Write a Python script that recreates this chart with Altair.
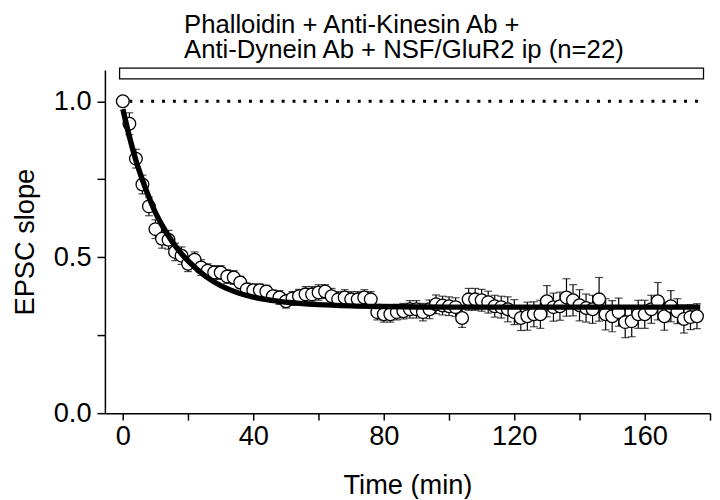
import altair as alt
import pandas as pd

# Time points (min) and normalized EPSC slope (mean, SEM)
time_min = [0, 2, 4, 6, 8, 10, 12, 14, 16, 18, 20, 22, 24, 26, 28, 30, 32, 34, 36, 38,
            40, 42, 44, 46, 48, 50, 52, 54, 56, 58, 60, 62, 64, 66, 68, 70, 72, 74, 76, 78,
            80, 82, 84, 86, 88, 90, 92, 94, 96, 98, 100, 102, 104, 106, 108, 110, 112, 114, 116, 118,
            120, 122, 124, 126, 128, 130, 132, 134, 136, 138, 140, 142, 144, 146, 148, 150, 152, 154, 156, 158,
            160, 162, 164, 166, 168, 170, 172, 174, 176]
epsc_mean = [1.000, 0.928, 0.816, 0.733, 0.663, 0.590, 0.559, 0.556, 0.517, 0.505,
             0.479, 0.492, 0.467, 0.457, 0.451, 0.451, 0.438, 0.435, 0.419, 0.397,
             0.394, 0.394, 0.390, 0.375, 0.371, 0.359, 0.368, 0.375, 0.381, 0.381,
             0.387, 0.390, 0.375, 0.365, 0.371, 0.365, 0.365, 0.371, 0.365, 0.324,
             0.317, 0.317, 0.324, 0.327, 0.333, 0.333, 0.324, 0.333, 0.349, 0.345,
             0.343, 0.340, 0.305, 0.365, 0.365, 0.362, 0.356, 0.343, 0.340, 0.333,
             0.324, 0.305, 0.311, 0.317, 0.317, 0.359, 0.340, 0.343, 0.371, 0.362,
             0.346, 0.337, 0.333, 0.365, 0.317, 0.311, 0.324, 0.292, 0.295, 0.317,
             0.317, 0.333, 0.359, 0.311, 0.343, 0.327, 0.302, 0.308, 0.311]
epsc_sem = [0.000, 0.035, 0.030, 0.030, 0.030, 0.030, 0.030, 0.030, 0.028, 0.028,
            0.025, 0.025, 0.025, 0.022, 0.022, 0.022, 0.022, 0.022, 0.020, 0.020,
            0.020, 0.020, 0.020, 0.020, 0.022, 0.022, 0.022, 0.022, 0.025, 0.025,
            0.025, 0.022, 0.025, 0.025, 0.025, 0.025, 0.025, 0.025, 0.025, 0.025,
            0.025, 0.025, 0.025, 0.025, 0.028, 0.028, 0.028, 0.030, 0.030, 0.030,
            0.030, 0.030, 0.030, 0.035, 0.035, 0.035, 0.035, 0.035, 0.035, 0.040,
            0.040, 0.040, 0.045, 0.040, 0.045, 0.050, 0.045, 0.045, 0.060, 0.050,
            0.050, 0.045, 0.045, 0.070, 0.050, 0.050, 0.045, 0.050, 0.050, 0.045,
            0.045, 0.045, 0.060, 0.045, 0.050, 0.040, 0.045, 0.040, 0.040]

# Exponential fit curve
fit_time = [0, 2, 4, 6, 8, 10, 12, 14, 16, 18, 20, 25, 30, 35, 40, 50, 60, 70, 80, 100, 140, 177]
fit_value = [0.975, 0.887, 0.811, 0.748, 0.692, 0.643, 0.603, 0.568, 0.537, 0.511, 0.488,
             0.442, 0.409, 0.387, 0.372, 0.356, 0.348, 0.344, 0.342, 0.340, 0.340, 0.340]

# Application bar and baseline
bar_start, bar_end = -1, 178
bar_low, bar_high = 1.072, 1.106
baseline_start, baseline_end, baseline_value = 2, 178, 1.0

title_lines = ["Phalloidin + Anti-Kinesin Ab +", "Anti-Dynein Ab + NSF/GluR2 ip (n=22)"]

FONT = "Liberation Sans"
FS = 27.5

df = pd.DataFrame({"t": time_min, "m": epsc_mean, "s": epsc_sem})
df["lo"] = df["m"] - df["s"]
df["hi"] = df["m"] + df["s"]
fit_df = pd.DataFrame({"t": fit_time, "v": fit_value})

xscale = alt.Scale(domain=[-5.5, 180], nice=False, zero=False)
yscale = alt.Scale(domain=[0, 1.1], nice=False, zero=False)

xaxis = alt.Axis(title="Time (min)", values=list(range(0, 181, 20)),
                 labelExpr="datum.value % 40 == 0 ? datum.label : ''",
                 grid=False, tickSize=7, labelPadding=3, titlePadding=22)
yaxis = alt.Axis(title="EPSC slope", values=[0, 0.25, 0.5, 0.75, 1.0],
                 labelExpr="datum.value % 0.5 == 0 ? format(datum.value, '.1f') : ''",
                 grid=False, tickSize=8, labelPadding=6, titlePadding=14)

base = alt.Chart(df)

rect = alt.Chart(pd.DataFrame({"x": [bar_start], "x2": [bar_end], "y": [bar_low], "y2": [bar_high]})).mark_rect(
    fill="white", stroke="black", strokeWidth=1.3
).encode(
    x=alt.X("x:Q", scale=xscale, axis=xaxis), x2="x2:Q",
    y=alt.Y("y:Q", scale=yscale, axis=yaxis), y2="y2:Q"
)

dots = alt.Chart(pd.DataFrame({"x": [baseline_start], "x2": [baseline_end], "y": [baseline_value]})).mark_rule(
    color="black", strokeWidth=3, strokeDash=[3, 8]
).encode(x="x:Q", x2="x2:Q", y="y:Q")

err = base.mark_rule(color="black", strokeWidth=1.2).encode(x="t:Q", y="lo:Q", y2="hi:Q")
cap_hi = base.mark_tick(color="black", orient="horizontal", size=8, thickness=1.2).encode(x="t:Q", y="hi:Q")
cap_lo = base.mark_tick(color="black", orient="horizontal", size=8, thickness=1.2).encode(x="t:Q", y="lo:Q")
pts = base.mark_circle(fill="white", stroke="black", strokeWidth=1.3, opacity=1, size=165).encode(
    x="t:Q", y="m:Q")

fit = alt.Chart(fit_df).mark_line(color="black", strokeWidth=5.5, interpolate="monotone").encode(
    x="t:Q", y="v:Q")

titles = alt.Chart(pd.DataFrame({"line": title_lines, "ypix": [-46, -20]})).mark_text(
    align="left", baseline="middle", font=FONT, fontSize=26, color="black"
).encode(text="line:N", x=alt.value(80), y=alt.Y("ypix:Q", scale=None))

chart = alt.layer(rect, dots, err, cap_hi, cap_lo, pts, fit, titles).properties(
    width=612, height=347,
    autosize=alt.AutoSizeParams(type="none"),
    padding={"left": 98, "top": 60, "right": 2, "bottom": 84},
    background="white"
).configure_view(stroke=None).configure_axis(
    labelFont=FONT, titleFont=FONT, labelFontSize=FS, titleFontSize=FS,
    titleFontWeight="normal", labelColor="black", titleColor="black",
    domainColor="black", tickColor="black", domainWidth=1.5, tickWidth=1.5
)

chart.save("out.html", embed_options={"renderer": "svg", "actions": False})
